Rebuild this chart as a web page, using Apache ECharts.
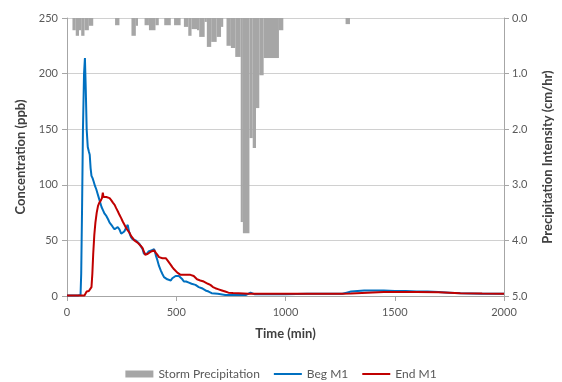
<!DOCTYPE html>
<html>
<head>
<meta charset="utf-8">
<script src="https://cdn.jsdelivr.net/npm/echarts@6/dist/echarts.min.js"></script>
<style>
  html, body { margin: 0; padding: 0; background: #fff; }
  #chart { width: 562px; height: 382px; }
</style>
</head>
<body>
<div id="chart"></div>
<script>
// Storm precipitation blocks: start / end time (min) and intensity (cm/hr)
const precipStart = [25, 40, 55, 65, 80, 100, 220, 295, 315, 355, 375, 405, 445, 490, 535, 555, 570, 595, 605, 630, 640, 660, 685, 705, 730, 750, 770, 795, 805, 835, 850, 865, 880, 900, 970, 1275];
const precipEnd   = [40, 55, 65, 80, 100, 120, 240, 315, 325, 375, 405, 420, 475, 520, 555, 570, 595, 605, 630, 640, 660, 685, 705, 715, 750, 770, 795, 805, 835, 850, 865, 880, 900, 970, 990, 1295];
const precipRate  = [0.22, 0.32, 0.22, 0.32, 0.22, 0.14, 0.13, 0.32, 0.14, 0.13, 0.22, 0.13, 0.13, 0.13, 0.16, 0.32, 0.2, 0.22, 0.34, 0.07, 0.52, 0.43, 0.34, 0.16, 0.5, 0.54, 0.7, 3.67, 3.87, 2.16, 2.34, 1.62, 1.03, 0.72, 0.22, 0.11];

// Beg M1 concentration (ppb)
const begTime = [0, 50, 62, 65, 69, 73, 78, 82, 86, 90, 95, 100, 104, 108, 112, 117, 122, 128, 134, 140, 146, 152, 158, 165, 172, 180, 188, 195, 203, 210, 218, 225, 232, 240, 248, 255, 262, 270, 278, 285, 293, 300, 308, 315, 323, 331, 339, 346, 352, 358, 366, 373, 380, 386, 392, 399, 406, 414, 421, 429, 436, 444, 452, 459, 467, 475, 482, 490, 497, 505, 512, 520, 528, 535, 545, 558, 570, 588, 603, 617, 625, 634, 648, 662, 690, 724, 780, 820, 840, 860, 900, 950, 1000, 1100, 1200, 1260, 1280, 1300, 1330, 1360, 1400, 1450, 1500, 1550, 1600, 1650, 1700, 1750, 1800, 1900, 2000];
const begConc = [0.5, 0.5, 1, 20, 80, 150, 200, 214, 185, 150, 134, 130, 127, 115, 108, 106, 103, 99, 96, 92, 88, 84, 80, 77, 74, 72, 69, 66, 64, 62, 60, 59, 62, 60, 56, 55, 58, 59, 64, 57, 53, 51, 50, 50, 49, 47, 46, 42, 38, 39, 38, 40, 40, 41, 40, 42, 37, 32, 27, 23, 20, 17, 16, 15, 14, 14, 16, 17, 18, 19, 18, 17, 15, 13, 13, 12, 11, 10, 8, 7, 6, 5, 4, 2.5, 2, 1, 1, 1, 3, 1.5, 1.5, 1.5, 1.5, 2, 2, 2, 3, 4, 4.5, 5, 5, 5, 4.5, 4.5, 4, 4, 3.5, 3, 2.5, 2, 2];

// End M1 concentration (ppb)
const endTime = [0, 80, 85, 90, 100, 108, 112, 116, 120, 125, 130, 136, 142, 148, 155, 160, 164, 167, 172, 180, 188, 195, 203, 210, 218, 225, 233, 240, 248, 255, 263, 271, 278, 286, 293, 301, 308, 316, 323, 331, 338, 346, 352, 358, 364, 370, 376, 385, 392, 399, 406, 414, 421, 429, 437, 445, 452, 460, 467, 475, 482, 490, 497, 505, 512, 520, 527, 535, 543, 550, 558, 565, 573, 580, 588, 595, 603, 610, 618, 626, 634, 645, 656, 668, 679, 694, 709, 724, 739, 760, 785, 830, 900, 1000, 1100, 1200, 1245, 1250, 1255, 1300, 1350, 1400, 1450, 1500, 1600, 1700, 1750, 1800, 1900, 2000];
const endConc = [0.5, 0.5, 2, 4, 4.5, 3, 8, 20, 38, 55, 66, 75, 81, 84, 86, 88, 93, 89, 89, 89, 88, 88, 86, 84, 82, 79, 76, 73, 70, 67, 64, 61, 59, 57, 54, 52, 50, 49, 48, 47, 45, 43, 40, 37, 37, 38, 39, 40, 41, 41, 39, 37, 35, 34, 34, 34, 34, 32, 31, 28, 26, 24, 23, 21, 20, 19, 19, 19, 19, 19, 19, 19, 19.5, 18, 17, 15, 14, 14, 14, 13, 12, 11, 10, 8, 7, 6, 5, 4, 3, 2.7, 2.5, 2, 2, 2, 2, 2, 2, 0.5, 2, 2.2, 2.7, 3.2, 3.5, 3.5, 3.5, 3.3, 3, 2.5, 2.2, 2];

const xTicks = [0, 500, 1000, 1500, 2000];

const font = 'Lato, "Liberation Sans", sans-serif';
const labelColor = '#595959';
const axisGray = '#a6a6a6';
const lineIcon = 'path://M0,0L28,0L28,2L0,2Z';

const precipData = precipStart.map((s, i) => [s, precipEnd[i], precipRate[i]]);
const begData = begTime.map((t, i) => [t, begConc[i]]);
const endData = endTime.map((t, i) => [t, endConc[i]]);

function renderBlock(params, api) {
  const low = api.coord([api.value(0), api.value(2)]);
  const high = api.coord([api.value(1), 0]);
  return {
    type: 'rect',
    shape: { x: low[0], y: high[1], width: high[0] - low[0], height: low[1] - high[1] },
    style: api.style()
  };
}

const chart = echarts.init(document.getElementById('chart'), null, { renderer: 'canvas' });
chart.setOption({
  animation: false,
  textStyle: { fontFamily: font },
  grid: { left: 67, right: 54, top: 18, bottom: 86 },
  legend: {
    top: 368,
    left: 'center',
    padding: 0,
    itemWidth: 28,
    itemHeight: 7,
    itemGap: 14,
    textStyle: { fontFamily: font, fontSize: 12, color: labelColor },
    data: [
      { name: 'Storm Precipitation', icon: 'rect' },
      { name: 'Beg M1', icon: lineIcon },
      { name: 'End M1', icon: lineIcon }
    ]
  },
  xAxis: {
    type: 'value',
    min: xTicks[0],
    max: xTicks[xTicks.length - 1],
    interval: 500,
    name: 'Time (min)',
    nameLocation: 'middle',
    nameGap: 31,
    nameTextStyle: { fontFamily: font, fontSize: 13, fontWeight: 'bold', color: '#404040' },
    axisLine: { lineStyle: { color: axisGray } },
    axisTick: { inside: false, length: 5, lineStyle: { color: axisGray } },
    axisLabel: { margin: 11, fontSize: 11, color: labelColor, formatter: (v) => String(v) },
    splitLine: { show: false }
  },
  yAxis: [
    {
      type: 'value',
      min: 0,
      max: 250,
      interval: 50,
      name: 'Concentration (ppb)',
      nameLocation: 'middle',
      nameRotate: 90,
      nameGap: 40,
      nameTextStyle: { fontFamily: font, fontSize: 13, fontWeight: 'bold', color: '#404040' },
      axisLine: { show: true, lineStyle: { color: axisGray } },
      axisTick: { show: true, length: 5, lineStyle: { color: axisGray } },
      axisLabel: { margin: 9, fontSize: 11, color: labelColor },
      splitLine: { show: true, lineStyle: { color: '#d0d0d0', width: 1 } }
    },
    {
      type: 'value',
      min: 0,
      max: 5,
      interval: 1,
      inverse: true,
      position: 'right',
      name: 'Precipitation Intensity (cm/hr)',
      nameLocation: 'middle',
      nameRotate: 90,
      nameGap: 37,
      nameTextStyle: { fontFamily: font, fontSize: 13, fontWeight: 'bold', color: '#404040' },
      axisLine: { show: true, lineStyle: { color: axisGray } },
      axisTick: { show: true, length: 5, lineStyle: { color: axisGray } },
      axisLabel: { margin: 8, fontSize: 11, color: labelColor, formatter: (v) => v.toFixed(1) },
      splitLine: { show: false }
    }
  ],
  series: [
    {
      name: 'Storm Precipitation',
      type: 'custom',
      xAxisIndex: 0,
      yAxisIndex: 1,
      renderItem: renderBlock,
      itemStyle: { color: '#a6a6a6' },
      encode: { x: [0, 1], y: 2 },
      data: precipData,
      z: 1
    },
    {
      name: 'Beg M1',
      type: 'line',
      yAxisIndex: 0,
      symbol: 'none',
      color: '#0070c0',
      lineStyle: { width: 2, color: '#0070c0' },
      data: begData,
      z: 3
    },
    {
      name: 'End M1',
      type: 'line',
      yAxisIndex: 0,
      symbol: 'none',
      color: '#c00000',
      lineStyle: { width: 2, color: '#c00000' },
      data: endData,
      z: 4
    }
  ]
});
</script>
</body>
</html>
